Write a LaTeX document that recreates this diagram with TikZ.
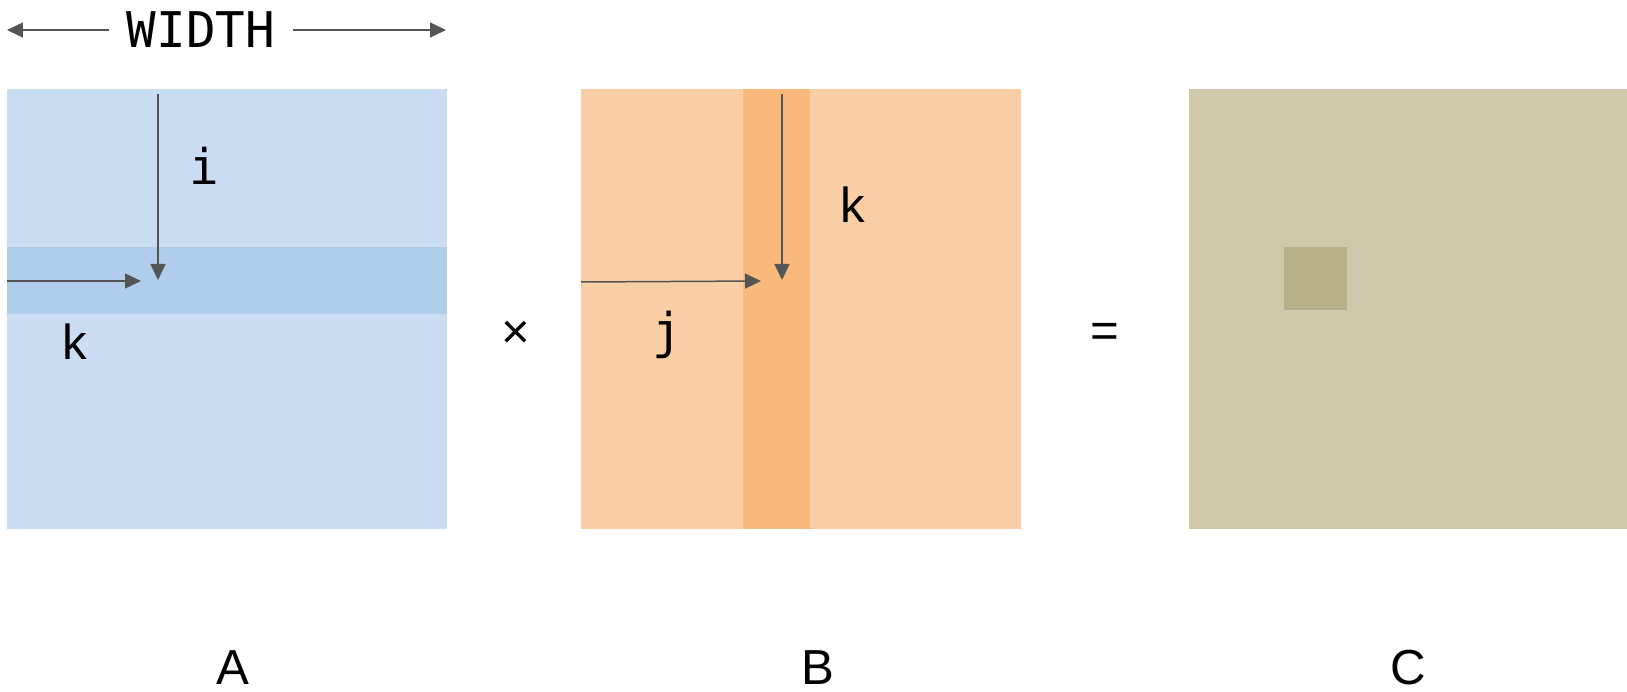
\documentclass[tikz,border=0pt]{standalone}
\usepackage{fontspec}
\setmainfont{Liberation Sans}
\setmonofont{DejaVu Sans Mono}
\usetikzlibrary{arrows.meta, positioning}

\definecolor{ablue}{HTML}{CADDF3}
\definecolor{abluedark}{HTML}{B0CDEC}
\definecolor{borange}{HTML}{FACEA4}
\definecolor{borangedark}{HTML}{F9B97A}
\definecolor{ckhaki}{HTML}{CFC8AB}
\definecolor{ckhakidark}{HTML}{B8B088}
\definecolor{arrowgray}{HTML}{555555}

\begin{document}
\begin{tikzpicture}[x=0.02cm, y=-0.02cm,
    matbox/.style={rectangle, inner sep=0pt, outer sep=0pt, anchor=north west,
                   minimum width=8.8cm, minimum height=8.8cm},
    pointer/.style={-{Triangle[length=0.32cm, width=0.3cm]}, line width=0.03cm, arrowgray},
    idxlabel/.style={font=\fontsize{28}{34}\selectfont\ttfamily, anchor=base, inner sep=0pt},
    oplabel/.style={font=\fontsize{28}{34}\selectfont, inner sep=0pt},
    namelabel/.style={font=\fontsize{28}{34}\selectfont, anchor=base, inner sep=0pt}]
    \useasboundingbox (0,0) rectangle (1627,692);

    % Matrix A with its row
    \node[matbox, fill=ablue] (matA) at (7,89) {};
    \node[matbox, fill=abluedark, minimum height=1.34cm] (rowA) at (7,247) {};
    \node[idxlabel] (ilbl) at (204,185) {i};
    \node[idxlabel, font=\fontsize{28}{34}\selectfont] (kA) at (75,360) {k};
    \coordinate (iTop) at (158,94);
    \coordinate (iEnd) at (158,280);
    \coordinate (kAStart) at (7,281);
    \coordinate (kAEnd) at (141,281);
    \draw[pointer] (iTop) -- (iEnd);
    \draw[pointer] (kAStart) -- (kAEnd);

    % Width marker
    \node[font=\fontsize{28}{34}\selectfont\ttfamily, inner sep=0pt, inner xsep=0.36cm] (widthlbl) at (201,30) {WIDTH};
    \coordinate (wLeft) at (7,30);
    \coordinate (wRight) at (446,30);
    \draw[pointer] (widthlbl.west) -- (wLeft);
    \draw[pointer] (widthlbl.east) -- (wRight);

    % Matrix B with its column
    \node[matbox, fill=borange] (matB) at (581,89) {};
    \node[matbox, fill=borangedark, minimum width=1.34cm] (colB) at (743,89) {};
    \node[idxlabel, font=\fontsize{28}{34}\selectfont] (kB) at (853,223) {k};
    \node[idxlabel] (jlbl) at (667,349) {j};
    \coordinate (kBTop) at (782,94);
    \coordinate (kBEnd) at (782,280);
    \coordinate (jStart) at (581,282);
    \coordinate (jEnd) at (761,281);
    \draw[pointer] (kBTop) -- (kBEnd);
    \draw[pointer] (jStart) -- (jEnd);

    % Matrix C with one cell
    \node[matbox, fill=ckhaki, minimum width=8.76cm] (matC) at (1189,89) {};
    \node[matbox, fill=ckhakidark, minimum width=1.26cm, minimum height=1.26cm] (cellC) at (1284,247) {};

    % Operators
    \node[oplabel] (times) at (516,335) {×};
    \node[oplabel] (equals) at (1105,335) {=};

    % Names
    \node[namelabel] (nameA) at (233,684) {A};
    \node[namelabel] (nameB) at (818,684) {B};
    \node[namelabel] (nameC) at (1408,684) {C};
\end{tikzpicture}
\end{document}
